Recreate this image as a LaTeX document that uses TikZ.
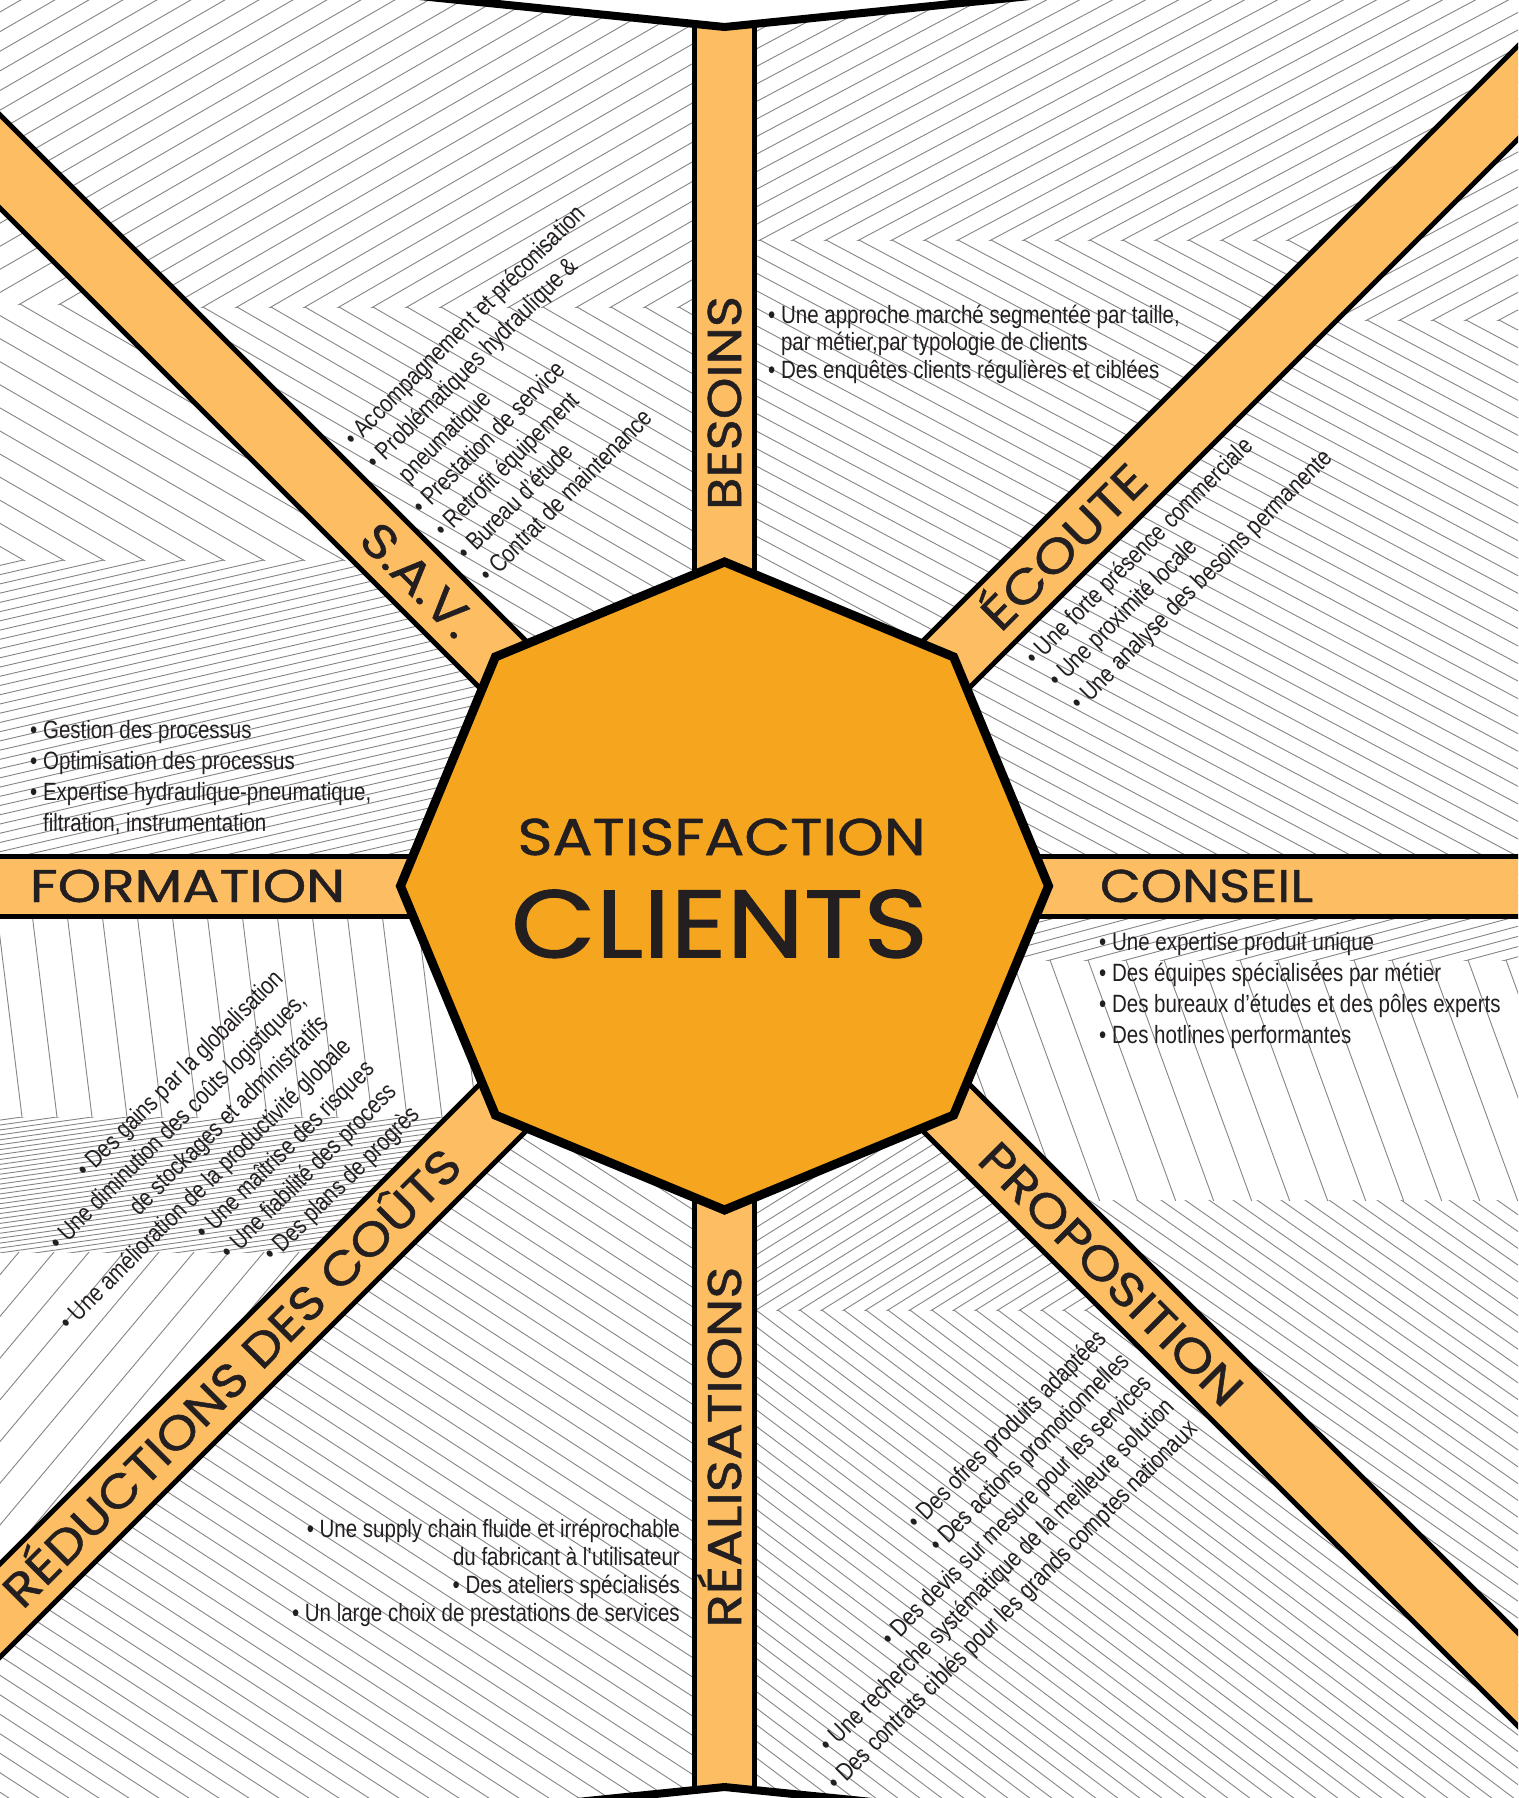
\documentclass[tikz,border=0pt]{standalone}
\usepackage{fontspec}
\setmainfont{Liberation Sans}
\newfontfamily\bodyfont[FakeStretch=0.82]{Liberation Sans}
\newfontfamily\headfont[FakeBold=1]{Poppins}
\usepackage{graphicx}

\definecolor{hubfill}{HTML}{F6A51F}
\definecolor{spokefill}{HTML}{FDBE63}
\definecolor{ink}{HTML}{231F20}

\tikzset{
  hatchline/.style={draw=black!48, line width=0.9pt},
  spoke/.style={fill=spokefill, draw=black, line width=5pt},
  hub/.style={fill=hubfill, draw=black, line width=9pt},
  lid/.style={draw=black, line width=8pt},
  headtxt/.style={inner sep=0pt, text=ink},
  itemtxt/.style={inner sep=0pt, text=ink, font=\bodyfont\fontsize{25}{30}\selectfont, transform shape},
  sec1/.style={insert path={(724.5,886) -- (724.5,-20) -- (-20,-20) -- (-20,141.5) -- cycle}},
  sec2/.style={insert path={(724.5,886) -- (-20,141.5) -- (-20,886) -- cycle}},
  sec3/.style={insert path={(724.5,886) -- (-20,886) -- (-20,1630.5) -- cycle}},
  sec4/.style={insert path={(724.5,886) -- (-20,1630.5) -- (-20,1820) -- (724.5,1820) -- cycle}},
  sec5/.style={insert path={(724.5,886) -- (724.5,1820) -- (1540,1820) -- (1540,1701.5) -- cycle}},
  sec6/.style={insert path={(724.5,886) -- (1540,1701.5) -- (1540,886) -- cycle}},
  sec7/.style={insert path={(724.5,886) -- (1540,886) -- (1540,70.5) -- cycle}},
  sec8/.style={insert path={(724.5,886) -- (1540,70.5) -- (1540,-20) -- (724.5,-20) -- cycle}}
}

% sector, top, bottom, spine, first vertex, spacing, angle
\newcommand\hatchzone[7]{%
  \begin{scope}
    \clip[#1];
    \clip (-20,#2) rectangle (1540,#3);
    \pgfmathtruncatemacro\kmin{(-2000-#5)/#6}
    \pgfmathtruncatemacro\kmax{(3500-#5)/#6}
    \foreach \k in {\kmin,...,\kmax}
      \draw[hatchline] ({#5+\k*#6},#4) ++(#7+180:2400) -- ++(#7:4800);
  \end{scope}}

\newcommand\fitlbl[3]{\resizebox{#1}{#2}{\headfont\vphantom{X}\smash{#3}}}

\begin{document}
\begin{tikzpicture}[x=1pt, y=-1pt]
\useasboundingbox (0,0) rectangle (1518,1798);
\clip (0,0) rectangle (1518,1798);
\fill[white] (0,0) rectangle (1518,1798);

% background
\hatchzone{sec1}{-20}{307}{307}{407}{34}{-30}
\hatchzone{sec1}{307}{900}{307}{407}{34}{30}
\hatchzone{sec2}{-20}{304}{304}{20}{40}{-30}
\hatchzone{sec2}{304}{560}{304}{20}{40}{30}
\hatchzone{sec2}{560}{900}{560}{463.4}{40}{-13}
\hatchzone{sec3}{870}{1117}{1117}{22}{35}{83}
\hatchzone{sec3}{1117}{1252}{1117}{22}{35}{-8}
\hatchzone{sec3}{1252}{1820}{1252}{19}{35}{-50}
\hatchzone{sec4}{870}{1820}{1500}{0}{30}{33}
\hatchzone{sec5}{870}{1310}{1310}{800}{22}{-32}
\hatchzone{sec5}{1310}{1820}{1310}{800}{22}{37}
\hatchzone{sec6}{870}{960}{960}{1050}{38}{-15}
\hatchzone{sec6}{960}{1200}{960}{1050}{38}{70}
\hatchzone{sec6}{1200}{1820}{1200}{1137}{24}{35}
\hatchzone{sec7}{-20}{320}{320}{1367}{33}{-28}
\hatchzone{sec7}{320}{900}{320}{1367}{33}{28}
\hatchzone{sec8}{-20}{240}{240}{760}{33}{-28}
\hatchzone{sec8}{240}{900}{240}{760}{33}{28}

% spokes
\draw[spoke, shift={(724.5,886)}, rotate=0] (0,-30) rectangle (1200,30);
\draw[spoke, shift={(724.5,886)}, rotate=45] (0,-33) rectangle (1200,33);
\draw[spoke, shift={(724.5,886)}, rotate=90] (0,-30) rectangle (1200,30);
\draw[spoke, shift={(724.5,886)}, rotate=135] (0,-33) rectangle (1200,33);
\draw[spoke, shift={(724.5,886)}, rotate=180] (0,-30) rectangle (1200,30);
\draw[spoke, shift={(724.5,886)}, rotate=225] (0,-33) rectangle (1200,33);
\draw[spoke, shift={(724.5,886)}, rotate=270] (0,-30) rectangle (1200,30);
\draw[spoke, shift={(724.5,886)}, rotate=315] (0,-33) rectangle (1200,33);

% top and bottom edges
\fill[white] (380,-30) -- (380,-8) -- (724.5,27) -- (1070,-8) -- (1070,-30) -- cycle;
\draw[lid] (380,-8) -- (724.5,27) -- (1070,-8);
\fill[white] (380,1830) -- (380,1822) -- (724.5,1787) -- (1070,1822) -- (1070,1830) -- cycle;
\draw[lid] (380,1822) -- (724.5,1787) -- (1070,1822);

% octagon
\draw[hub] (724.5,562) -- (953.6,656.9) -- (1048.5,886) -- (953.6,1115.1) -- (724.5,1210)
  -- (495.4,1115.1) -- (400.5,886) -- (495.4,656.9) -- cycle;

\node[headtxt] (satis) at (721.6,837) {\fitlbl{408pt}{36pt}{SATISFACTION}};
\node[headtxt] (clients) at (719.5,924) {\fitlbl{417pt}{67pt}{CLIENTS}};

% spoke labels
\node[headtxt, rotate=90] (besoins) at (724.5,403) {\fitlbl{214pt}{33pt}{BESOINS}};
\node[headtxt, rotate=-45] (sav) at (418,580) {\fitlbl{140pt}{33pt}{S.A.V.}};
\node[headtxt, rotate=45] (ecoute) at (1064,547) {\fitlbl{212pt}{33pt}{ÉCOUTE}};
\node[headtxt] (formation) at (187.5,886) {\fitlbl{315pt}{32pt}{FORMATION}};
\node[headtxt] (conseil) at (1206.5,886) {\fitlbl{213pt}{32pt}{CONSEIL}};
\node[headtxt, rotate=-45] (proposition) at (1111,1274) {\fitlbl{350pt}{33pt}{PROPOSITION}};
\node[headtxt, rotate=90] (realisations) at (724.5,1447) {\fitlbl{361pt}{33pt}{RÉALISATIONS}};
\node[headtxt, rotate=45] (reductions) at (232,1378) {\fitlbl{625pt}{33pt}{RÉDUCTIONS DES COÛTS}};

% S.A.V.
\begin{scope}[shift={(354,448)}, rotate=45]
  \node[itemtxt, anchor=base west] (sav1) at (0,0) {• Accompagnement et préconisation};
  \node[itemtxt, anchor=base west] (sav2) at (0,32) {• Problématiques hydraulique \&};
  \node[itemtxt, anchor=base west] (sav3) at (0,64) {\phantom{•\ }pneumatique};
  \node[itemtxt, anchor=base west] (sav4) at (0,96) {• Prestation de service};
  \node[itemtxt, anchor=base west] (sav5) at (0,128) {• Retrofit équipement};
  \node[itemtxt, anchor=base west] (sav6) at (0,160) {• Bureau d’étude};
  \node[itemtxt, anchor=base west] (sav7) at (0,192) {• Contrat de maintenance};
\end{scope}

% besoins
\begin{scope}[shift={(768,323)}]
  \node[itemtxt, anchor=base west] (bes1) at (0,0) {• Une approche marché segmentée par taille,};
  \node[itemtxt, anchor=base west] (bes2) at (0,27.5) {\phantom{•\ }par métier,par typologie de clients};
  \node[itemtxt, anchor=base west] (bes3) at (0,55) {• Des enquêtes clients régulières et ciblées};
\end{scope}

% ecoute
\begin{scope}[shift={(1035.5,666.5)}, rotate=45]
  \node[itemtxt, anchor=base west] (eco1) at (0,0) {• Une forte présence commerciale};
  \node[itemtxt, anchor=base west] (eco2) at (0,32) {• Une proximité locale};
  \node[itemtxt, anchor=base west] (eco3) at (0,64) {• Une analyse des besoins permanente};
\end{scope}

% formation
\begin{scope}[shift={(30,738.5)}]
  \node[itemtxt, anchor=base west] (for1) at (0,0) {• Gestion des processus};
  \node[itemtxt, anchor=base west] (for2) at (0,31) {• Optimisation des processus};
  \node[itemtxt, anchor=base west] (for3) at (0,62) {• Expertise hydraulique-pneumatique,};
  \node[itemtxt, anchor=base west] (for4) at (0,93) {\phantom{•\ }filtration, instrumentation};
\end{scope}

% conseil
\begin{scope}[shift={(1099,950)}]
  \node[itemtxt, anchor=base west] (con1) at (0,0) {• Une expertise produit unique};
  \node[itemtxt, anchor=base west] (con2) at (0,31) {• Des équipes spécialisées par métier};
  \node[itemtxt, anchor=base west] (con3) at (0,62) {• Des bureaux d’études et des pôles experts};
  \node[itemtxt, anchor=base west] (con4) at (0,93) {• Des hotlines performantes};
\end{scope}

% reductions des couts
\begin{scope}[shift={(285,980)}, rotate=45]
  \node[itemtxt, anchor=base east] (red1) at (0,0) {• Des gains par la globalisation};
  \node[itemtxt, anchor=base east] (red2) at (0,32) {• Une diminution des coûts logistiques,};
  \node[itemtxt, anchor=base east] (red3) at (0,64) {de stockages et administratifs};
  \node[itemtxt, anchor=base east] (red4) at (0,96) {• Une amélioration de la productivité globale};
  \node[itemtxt, anchor=base east] (red5) at (0,128) {• Une maîtrise des risques};
  \node[itemtxt, anchor=base east] (red6) at (0,160) {• Une fiabilité des process};
  \node[itemtxt, anchor=base east] (red7) at (0,192) {• Des plans de progrès};
\end{scope}

% realisations
\begin{scope}[shift={(680,1537)}]
  \node[itemtxt, anchor=base east] (rea1) at (0,0) {• Une supply chain fluide et irréprochable};
  \node[itemtxt, anchor=base east] (rea2) at (0,28) {du fabricant à l’utilisateur};
  \node[itemtxt, anchor=base east] (rea3) at (0,56) {• Des ateliers spécialisés};
  \node[itemtxt, anchor=base east] (rea4) at (0,84) {• Un large choix de prestations de services};
\end{scope}

% proposition
\begin{scope}[shift={(1108,1340)}, rotate=45]
  \node[itemtxt, anchor=base east] (pro1) at (0,0) {• Des ofres produits adaptées};
  \node[itemtxt, anchor=base east] (pro2) at (0,32) {• Des actions promotionnelles};
  \node[itemtxt, anchor=base east] (pro3) at (0,64) {• Des devis sur mesure pour les services};
  \node[itemtxt, anchor=base east] (pro4) at (0,96) {• Une recherche systématique de la meilleure solution};
  \node[itemtxt, anchor=base east] (pro5) at (0,128) {• Des contrats ciblés pour les grands comptes nationaux};
\end{scope}
\end{tikzpicture}
\end{document}
